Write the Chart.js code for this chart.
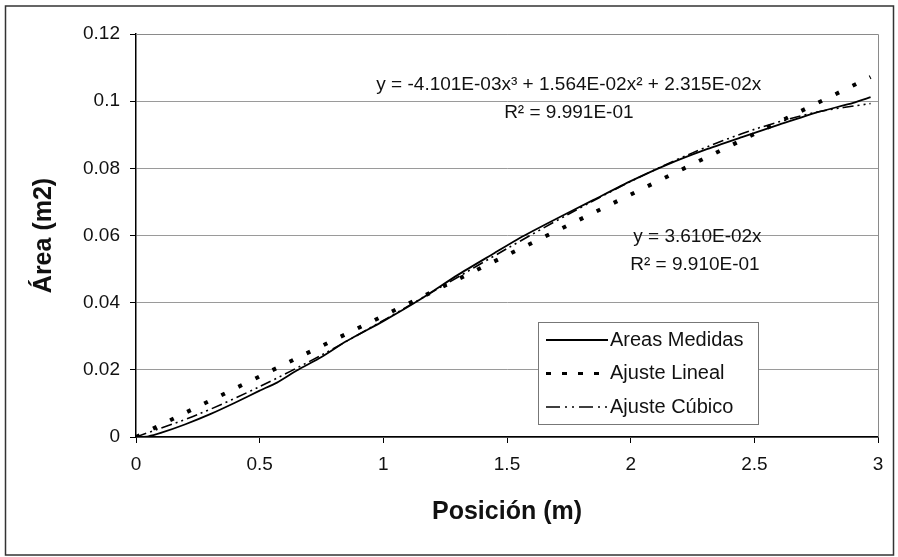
<!DOCTYPE html>
<html lang="es">
<head>
<meta charset="utf-8">
<title>Área vs Posición</title>
<script src="https://cdn.jsdelivr.net/npm/chart.js@4.4.0/dist/chart.umd.min.js"></script>
<style>
    html, body { margin: 0; padding: 0; background: #fff; }
    #areaChart { display: block; }
</style>
</head>
<body>
<canvas id="areaChart" width="898" height="557"></canvas>
<script>
// ─── DATA ───
const posMedidas  = [0, 0.05, 0.1, 0.2, 0.3, 0.4, 0.5, 0.57, 0.65, 0.75, 0.85, 1.0, 1.15, 1.3, 1.45, 1.55, 1.7, 1.85, 2.0, 2.15, 2.3, 2.45, 2.6, 2.75, 2.9, 2.97];
const areaMedidas = [0, 0.0002, 0.0012, 0.0038, 0.0068, 0.0102, 0.0138, 0.0162, 0.0198, 0.0238, 0.0285, 0.0345, 0.0410, 0.0482, 0.0548, 0.0592, 0.0650, 0.0706, 0.0762, 0.0812, 0.0855, 0.0893, 0.0930, 0.0966, 0.0995, 0.1012];

const posLineal  = [0, 2.97];
const areaLineal = [0, 0.1072];

const posCubico  = [0, 0.25, 0.5, 0.75, 1.0, 1.25, 1.5, 1.75, 2.0, 2.25, 2.5, 2.75, 2.97];
const areaCubico = [0, 0.0067, 0.0150, 0.0244, 0.0347, 0.0454, 0.0561, 0.0664, 0.0761, 0.0846, 0.0916, 0.0967, 0.0993];

const seriesNames = ['Areas Medidas', 'Ajuste Lineal', 'Ajuste Cúbico'];
const xTickLabels = ['0', '0.5', '1', '1.5', '2', '2.5', '3'];
const yTickLabels = ['0', '0.02', '0.04', '0.06', '0.08', '0.1', '0.12'];

const eqCubico = ['y = -4.101E-03x³ + 1.564E-02x² + 2.315E-02x', 'R² = 9.991E-01'];
const eqLineal = ['y = 3.610E-02x', 'R² = 9.910E-01'];

const FONT = "'Liberation Sans', Arial, sans-serif";

const toPoints = (xs, ys) => xs.map((x, i) => ({ x: x, y: ys[i] }));

// ─── PLUGIN: background, frame, equations, legend ───
const decorPlugin = {
    id: 'decor',
    beforeDraw(chart) {
        const c = chart.ctx;
        c.save();
        c.fillStyle = '#fff';
        c.fillRect(0, 0, chart.width, chart.height);
        c.restore();
    },
    beforeDatasetsDraw(chart) {
        // top / right plot border (grey)
        const c = chart.ctx, a = chart.chartArea;
        c.save();
        c.strokeStyle = '#8a8a8a';
        c.lineWidth = 1;
        c.beginPath();
        c.moveTo(a.left, a.top + 0.5);
        c.lineTo(a.right + 0.5, a.top + 0.5);
        c.lineTo(a.right + 0.5, a.bottom);
        c.stroke();
        c.restore();
    },
    afterDraw(chart) {
        const c = chart.ctx;
        const xs = chart.scales.x, ys = chart.scales.y;

        // equations
        c.save();
        c.fillStyle = '#111';
        c.font = '19px ' + FONT;
        c.textAlign = 'center';
        c.textBaseline = 'middle';
        c.fillText(eqCubico[0], xs.getPixelForValue(1.75), ys.getPixelForValue(0.1048));
        c.fillText(eqCubico[1], xs.getPixelForValue(1.75), ys.getPixelForValue(0.0965));
        c.fillText(eqLineal[0], xs.getPixelForValue(2.27), ys.getPixelForValue(0.0596));
        c.fillText(eqLineal[1], xs.getPixelForValue(2.26), ys.getPixelForValue(0.0512));
        c.restore();

        // legend box
        const lx = 538, ly = 322, lw = 220, lh = 102;
        c.save();
        c.fillStyle = '#fff';
        c.fillRect(lx, ly, lw, lh);
        c.strokeStyle = '#777';
        c.lineWidth = 1;
        c.strokeRect(lx + 0.5, ly + 0.5, lw, lh);
        c.font = '20px ' + FONT;
        c.textBaseline = 'middle';
        chart.data.datasets.forEach((ds, i) => {
            const ry = ly + 18 + i * 33.5;
            c.strokeStyle = ds.borderColor;
            c.lineWidth = Math.min(ds.borderWidth, 3);
            c.setLineDash(ds.legendDash || []);
            c.beginPath();
            c.moveTo(lx + 8, ry);
            c.lineTo(lx + 70, ry);
            c.stroke();
            c.setLineDash([]);
            c.fillStyle = '#111';
            c.fillText(ds.label, lx + 72, ry);
        });
        c.restore();

        // outer chart frame
        c.save();
        c.strokeStyle = '#333';
        c.lineWidth = 1.5;
        c.strokeRect(5.5, 6, 888, 549);
        c.restore();
    }
};

// ─── CHART ───
new Chart(document.getElementById('areaChart'), {
    type: 'line',
    data: {
        datasets: [
            {
                label: seriesNames[0],
                data: toPoints(posMedidas, areaMedidas),
                borderColor: '#000',
                borderWidth: 1.8,
                pointRadius: 0,
                tension: 0.2,
                order: 0
            },
            {
                label: seriesNames[1],
                data: toPoints(posLineal, areaLineal),
                borderColor: '#000',
                borderWidth: 4,
                borderDash: [4, 15],
                legendDash: [5, 11],
                pointRadius: 0,
                order: 2
            },
            {
                label: seriesNames[2],
                data: toPoints(posCubico, areaCubico),
                borderColor: '#000',
                borderWidth: 1.6,
                borderDash: [11, 4, 2, 4, 2, 4],
                legendDash: [14, 5, 2, 5, 2, 5],
                pointRadius: 0,
                tension: 0.3,
                order: 1
            }
        ]
    },
    options: {
        responsive: false,
        animation: false,
        devicePixelRatio: 1,
        layout: { padding: { left: 0, top: 34, right: 20, bottom: 0 } },
        plugins: {
            legend: { display: false },
            tooltip: { enabled: false }
        },
        scales: {
            x: {
                type: 'linear',
                min: 0,
                max: 3,
                afterFit: s => { s.height = 120; },
                afterBuildTicks: s => { s.ticks = xTickLabels.map(v => ({ value: parseFloat(v) })); },
                ticks: {
                    color: '#111',
                    font: { family: FONT, size: 19 },
                    padding: 10,
                    maxRotation: 0,
                    callback: (v, i) => xTickLabels[i]
                },
                grid: { drawOnChartArea: false, tickColor: '#000', tickLength: 6 },
                border: { color: '#000', width: 1.5 },
                title: {
                    display: true,
                    text: 'Posición (m)',
                    color: '#111',
                    font: { family: FONT, size: 25, weight: 'bold' },
                    padding: { top: 0, bottom: 30 }
                }
            },
            y: {
                type: 'linear',
                min: 0,
                max: 0.12,
                afterFit: s => { s.width = 136; },
                afterBuildTicks: s => { s.ticks = yTickLabels.map(v => ({ value: parseFloat(v) })); },
                ticks: {
                    color: '#111',
                    font: { family: FONT, size: 19 },
                    padding: 10,
                    callback: (v, i) => yTickLabels[i]
                },
                grid: { color: '#9a9a9a', lineWidth: 1, tickColor: '#000', tickLength: 6 },
                border: { color: '#000', width: 1.5 },
                title: {
                    display: true,
                    text: 'Área (m2)',
                    color: '#111',
                    font: { family: FONT, size: 25, weight: 'bold' },
                    padding: { top: 29, bottom: 0 }
                }
            }
        }
    },
    plugins: [decorPlugin]
});
</script>
</body>
</html>
